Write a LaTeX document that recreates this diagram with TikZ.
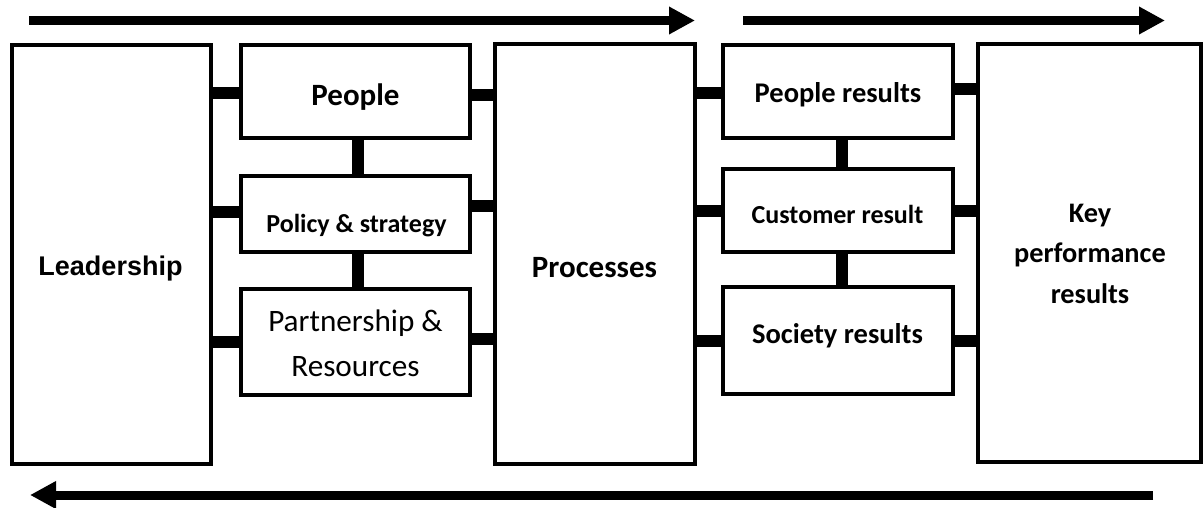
\documentclass[tikz,border=0pt]{standalone}
\usepackage{fontspec}
\newfontfamily\calfont{Carlito}
\newfontfamily\arialfont{Liberation Sans}
\usetikzlibrary{arrows.meta,calc}
\begin{document}
\begin{tikzpicture}[x=1pt,y=-1pt,
  box/.style={draw, line width=4pt, inner sep=0pt},
  link/.style={line width=12pt},
  flow/.style={line width=9pt, -{Triangle[length=26pt,width=26pt]}},
  txt/.style={inner sep=0pt, anchor=base, align=center}]
\useasboundingbox (0,0) rectangle (1204,508);
% boxes
\node[box, minimum width=199pt, minimum height=419pt] (lead) at (111.5,254.5) {};
\node[box, minimum width=229pt, minimum height=93pt] (people) at (355.5,91.5) {};
\node[box, minimum width=229pt, minimum height=76pt] (policy) at (355.5,214) {};
\node[box, minimum width=229pt, minimum height=106pt] (partner) at (355.5,342) {};
\node[box, minimum width=200pt, minimum height=420pt] (proc) at (595,254) {};
\node[box, minimum width=230pt, minimum height=93pt] (presult) at (838,91.5) {};
\node[box, minimum width=230pt, minimum height=83pt] (cust) at (838,210.5) {};
\node[box, minimum width=230pt, minimum height=107pt] (soc) at (838,340.5) {};
\node[box, minimum width=223pt, minimum height=418pt] (kpr) at (1089.5,253) {};
% texts
\node[txt, font=\arialfont\bfseries\fontsize{27}{32}\selectfont] (leadT) at (110.5,275) {Leadership};
\node[txt, font=\calfont\bfseries\fontsize{31}{37}\selectfont] (peopleT) at (355.5,106) {People};
\node[txt, font=\calfont\bfseries\fontsize{26}{31}\selectfont] (policyT) at (356.5,232) {Policy \& strategy};
\node[txt, anchor=center, font=\calfont\fontsize{31.2}{45}\selectfont] (partnerT) at (355.5,343) {Partnership \&\\Resources};
\node[txt, font=\calfont\bfseries\fontsize{31}{37}\selectfont] (procT) at (594.5,277) {Processes};
\node[txt, font=\calfont\bfseries\fontsize{28.5}{34}\selectfont] (presultT) at (838,103) {People results};
\node[txt, font=\calfont\bfseries\fontsize{26}{31}\selectfont] (custT) at (837.5,223) {Customer result};
\node[txt, font=\calfont\bfseries\fontsize{28.5}{34}\selectfont] (socT) at (837.5,343) {Society results};
\node[txt, anchor=center, font=\calfont\bfseries\fontsize{28.3}{40.5}\selectfont] (kprT) at (1090,253.5) {Key\\performance\\results};
% horizontal links
\draw[link] ($(lead.east |- people.west)+(0,1.5)$) -- ($(people.west)+(0,1.5)$);
\draw[link] ($(people.east)+(0,3.5)$) -- ($(proc.west |- people.east)+(0,3.5)$);
\draw[link] ($(proc.east |- presult.west)+(0,1.5)$) -- ($(presult.west)+(0,1.5)$);
\draw[link] ($(presult.east)+(0,-2.5)$) -- ($(kpr.west |- presult.east)+(0,-2.5)$);
\draw[link] ($(lead.east |- policy.west)+(0,-2)$) -- ($(policy.west)+(0,-2)$);
\draw[link] ($(policy.east)+(0,-8)$) -- ($(proc.west |- policy.east)+(0,-8)$);
\draw[link] (proc.east |- cust.west) -- (cust.west);
\draw[link] (cust.east) -- (kpr.west |- cust.east);
\draw[link] (lead.east |- partner.west) -- (partner.west);
\draw[link] ($(partner.east)+(0,-3)$) -- ($(proc.west |- partner.east)+(0,-3)$);
\draw[link] (proc.east |- soc.west) -- (soc.west);
\draw[link] (soc.east) -- (kpr.west |- soc.east);
% vertical links
\draw[link] ($(people.south)+(2.5,0)$) -- ($(policy.north)+(2.5,0)$);
\draw[link] ($(policy.south)+(2.5,0)$) -- ($(partner.north)+(2.5,0)$);
\draw[link] ($(presult.south)+(4,0)$) -- ($(cust.north)+(4,0)$);
\draw[link] ($(cust.south)+(4,0)$) -- ($(soc.north)+(4,0)$);
% flow arrows
\coordinate (a1s) at (29,20.5);
\coordinate (a1e) at (695,20.5);
\coordinate (a2s) at (743,20.5);
\coordinate (a2e) at (1165,20.5);
\coordinate (a3s) at (1153,495);
\coordinate (a3e) at (30,495);
\draw[flow] (a1s) -- (a1e);
\draw[flow] (a2s) -- (a2e);
\draw[flow] (a3s) -- (a3e);
\end{tikzpicture}
\end{document}
